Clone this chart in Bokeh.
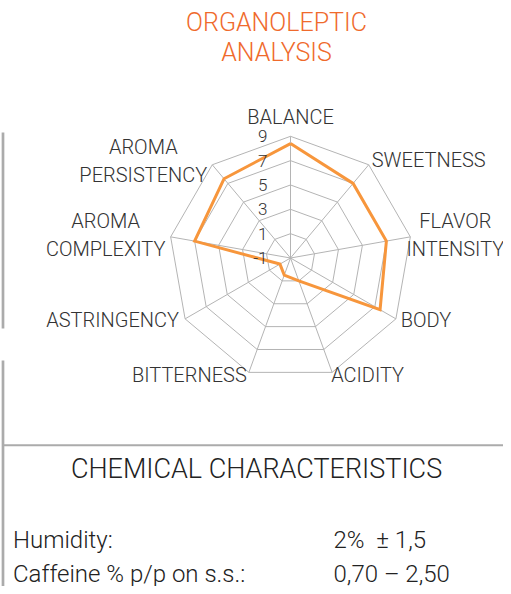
import numpy as np
from bokeh.plotting import figure
from bokeh.models import Range1d
from bokeh.core.properties import value
from bokeh.embed import file_html
from bokeh.resources import INLINE

# ---------------- data ----------------
title_lines = ["ORGANOLEPTIC", "ANALYSIS"]
attributes = ["BALANCE", "SWEETNESS", "FLAVOR\nINTENSITY", "BODY", "ACIDITY",
              "BITTERNESS", "ASTRINGENCY", "AROMA\nCOMPLEXITY", "AROMA\nPERSISTENCY"]
scores = [8.4, 7.0, 7.0, 7.5, 1.0, 0.5, 0.0, 7.0, 7.5]
tick_values = [-1, 1, 3, 5, 7, 9]
tick_labels = ["-1", "1", "3", "5", "7", "9"]
chem_title = "CHEMICAL CHARACTERISTICS"
chem_names = ["Humidity:", "Caffeine % p/p on s.s.:"]
chem_values = ["2%\u00a0\u00a0\u00b1 1,5", "0,70 \u2013 2,50"]

# ---------------- layout / style ----------------
W, H = 503, 586
CX, CY, R = 290.0, 257.5, 121.7
VMIN, VMAX = tick_values[0], tick_values[-1]
FONT = value("'Roboto Light', Roboto")
LABEL_OFFSETS = [(0, -19), (60, -5), (45, -2), (30, 1.5), (35.5, 3),
                 (-59.5, 3), (-72.5, 1.6), (-65, -2), (-69, -4)]

n = len(attributes)
theta = np.deg2rad(90 - 360.0 / n * np.arange(n))


def rad(v):
    return (np.asarray(v, dtype=float) - VMIN) / (VMAX - VMIN) * R


def pts(r):
    r = np.broadcast_to(r, theta.shape)
    x = CX + r * np.cos(theta)
    y = CY - r * np.sin(theta)
    return np.append(x, x[0]), np.append(y, y[0])


p = figure(width=W, height=H, x_range=Range1d(0, W), y_range=Range1d(H, 0),
           output_backend="svg", toolbar_location=None,
           x_axis_location=None, y_axis_location=None, min_border=0,
           outline_line_color=None, background_fill_color="white")
p.grid.visible = False

GRID = "#b4b4b4"
# rings
xs, ys = [], []
for tv in tick_values[1:]:
    x, y = pts(rad(tv))
    xs.append(list(x)); ys.append(list(y))
p.multi_line(xs, ys, line_color=GRID, line_width=1)
# spokes
ox, oy = pts(rad(VMAX))
p.segment(x0=[CX] * n, y0=[CY] * n, x1=ox[:-1], y1=oy[:-1], line_color=GRID, line_width=1)

# data polygon
dx, dy = pts(rad(scores))
p.line(dx, dy, line_color="#f7963c", line_width=3, line_join="miter")

# tick labels
p.text(x=[CX - 23] * len(tick_values), y=list(CY - rad(tick_values)), text=tick_labels,
       text_font=FONT, text_font_size="17px", text_color="#333333",
       text_align="right", text_baseline="middle")

# attribute labels
lx = [ox[i] + LABEL_OFFSETS[i][0] for i in range(n)]
ly = [oy[i] + LABEL_OFFSETS[i][1] for i in range(n)]
p.text(x=lx, y=ly, text=attributes, text_font=FONT, text_font_size="20px",
       text_color="#333333", text_align="center", text_baseline="middle",
       text_line_height=1.15)

# title
p.text(x=[276, 276], y=[22, 52], text=title_lines, text_font=FONT,
       text_font_size="25px", text_color="#ef6a2c", text_align="center",
       text_baseline="middle")

# frame lines
LINE = "#ababab"
p.segment(x0=[2.5, 2.5], y0=[132, 360], x1=[2.5, 2.5], y1=[328, H],
          line_color=LINE, line_width=2.7)
p.segment(x0=[2.5], y0=[444.7], x1=[W], y1=[444.7], line_color=LINE, line_width=2)

# chemical characteristics
p.text(x=[256], y=[468], text=[chem_title], text_font=FONT, text_font_size="27px",
       text_color="#222222", text_align="center", text_baseline="middle")
p.text(x=[12.5] * 2, y=[539, 573], text=chem_names, text_font=FONT,
       text_font_size="24px", text_color="#222222", text_align="left",
       text_baseline="middle")
p.text(x=[333] * 2, y=[539, 573], text=chem_values, text_font=FONT,
       text_font_size="24px", text_color="#222222", text_align="left",
       text_baseline="middle")

open("out.html", "w").write(file_html(p, INLINE))
